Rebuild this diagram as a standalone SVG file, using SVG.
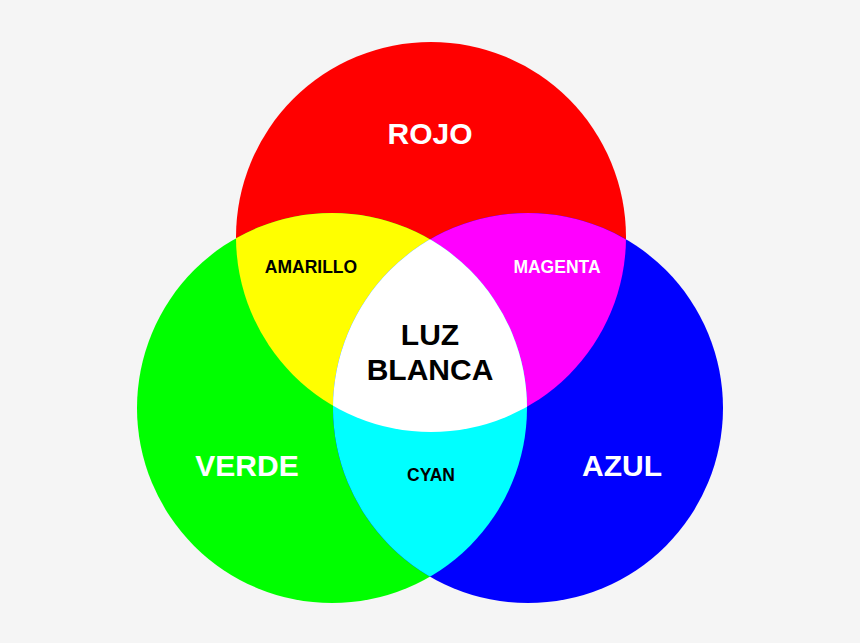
<svg xmlns="http://www.w3.org/2000/svg" width="860" height="643" viewBox="0 0 860 643">
<style>
.t{font-family:"Liberation Sans",Arial,sans-serif;font-weight:bold;text-anchor:middle}
.big{font-size:30px}
.sm{font-size:17.5px}
.w{fill:#ffffff}
.k{fill:#000000}
</style>
<defs>
<clipPath id="cr"><circle cx="431" cy="237" r="195"/></clipPath>
<clipPath id="cg"><circle cx="332" cy="408" r="195"/></clipPath>
<clipPath id="cb"><circle cx="528" cy="408" r="195"/></clipPath>
</defs>
<rect width="860" height="643" fill="#f5f5f5"/>
<g id="rojo"><circle cx="431" cy="237" r="195" fill="#ff0000"/></g>
<g id="verde"><circle cx="332" cy="408" r="195" fill="#00ff00"/></g>
<g id="azul"><circle cx="528" cy="408" r="195" fill="#0000ff"/></g>
<g id="amarillo" clip-path="url(#cr)"><circle cx="332" cy="408" r="195" fill="#ffff00"/></g>
<g id="magenta" clip-path="url(#cr)"><circle cx="528" cy="408" r="195" fill="#ff00ff"/></g>
<g id="cyan" clip-path="url(#cg)"><circle cx="528" cy="408" r="195" fill="#00ffff"/></g>
<g id="blanca" clip-path="url(#cr)"><g clip-path="url(#cg)"><circle cx="528" cy="408" r="195" fill="#ffffff"/></g></g>
<g id="labels">
<text class="t big w" x="430" y="144">ROJO</text>
<text class="t sm k" x="311" y="273">AMARILLO</text>
<text class="t sm w" x="557" y="273">MAGENTA</text>
<text class="t big k" x="430" y="345">LUZ</text>
<text class="t big k" x="430" y="380">BLANCA</text>
<text class="t big w" x="247" y="476">VERDE</text>
<text class="t big w" x="622" y="476">AZUL</text>
<text class="t sm k" x="431" y="481">CYAN</text>
</g>
<g id="connectors"/>
</svg>
